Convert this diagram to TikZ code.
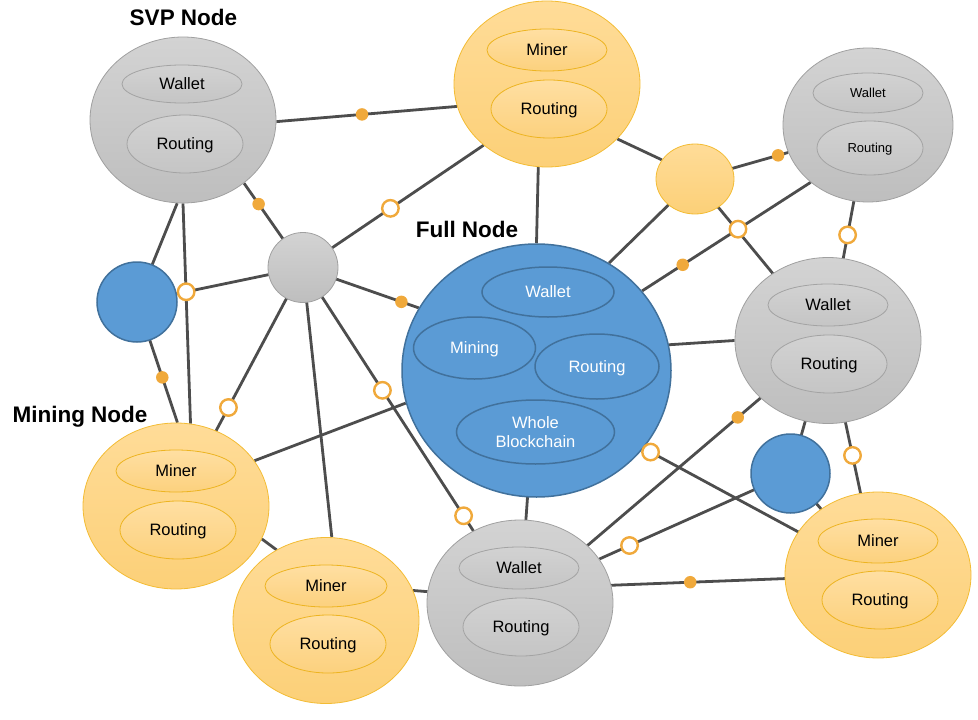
\documentclass[tikz,border=0pt]{standalone}
\usepackage{fontspec}
\setmainfont{Liberation Sans}
\usetikzlibrary{shapes.geometric}
\pgfdeclarelayer{background}
\pgfsetlayers{background,main}
\definecolor{gtop}{HTML}{D3D3D3}
\definecolor{gbot}{HTML}{BEBEBE}
\definecolor{gline}{HTML}{A0A0A0}
\definecolor{gitop}{HTML}{D2D2D2}
\definecolor{gibot}{HTML}{C5C5C5}
\definecolor{giline}{HTML}{A3A3A3}
\definecolor{ytop}{HTML}{FFDC98}
\definecolor{ybot}{HTML}{FCD078}
\definecolor{yline}{HTML}{F3BC34}
\definecolor{yitop}{HTML}{FFDFA2}
\definecolor{yibot}{HTML}{FCD17E}
\definecolor{yiline}{HTML}{EDB421}
\definecolor{bluef}{HTML}{5B9BD5}
\definecolor{bline}{HTML}{41719C}
\definecolor{markc}{HTML}{F0A93B}
\definecolor{linkc}{HTML}{4D4D4D}
\tikzset{
  big/.style={ellipse, inner sep=0pt, minimum width=186pt, minimum height=166pt},
  grayn/.style={draw=gline, line width=0.8pt, top color=gtop, bottom color=gbot},
  yelln/.style={draw=yline, line width=0.8pt, top color=ytop, bottom color=ybot},
  bluen/.style={draw=bline, line width=1.5pt, fill=bluef},
  part/.style={ellipse, inner sep=0pt, font=\fontsize{16.5}{19.8}\selectfont},
  oneline/.style={text height=11.8pt, text depth=0pt},
  smallline/.style={text height=9.3pt, text depth=0pt, font=\fontsize{13}{15.6}\selectfont},
  graypart/.style={part, oneline, draw=giline, line width=0.8pt, top color=gitop, bottom color=gibot},
  yellpart/.style={part, oneline, draw=yiline, line width=0.8pt, top color=yitop, bottom color=yibot},
  bluepart/.style={part, draw=bline, line width=1.5pt, fill=bluef, text=white},
  lab/.style={anchor=base, font=\bfseries\fontsize{22.5}{27}\selectfont},
  link/.style={draw=linkc, line width=2.8pt},
  dotm/.style={circle, fill=markc, inner sep=0pt, minimum size=12.5pt},
  ringm/.style={circle, draw=markc, line width=2.4pt, fill=white, inner sep=0pt, minimum size=16.5pt}
}
\begin{document}
\begin{tikzpicture}[x=1pt,y=-1pt]
\useasboundingbox (0,0) rectangle (978,720);
% outer nodes
\node[big,grayn] (svp) at (183,120) {};
\node[big,yelln] (m1) at (547,84) {};
\node[grayn, ellipse, inner sep=0pt, minimum width=170pt, minimum height=154pt] (g2) at (868,125) {};
\node[yelln, ellipse, inner sep=0pt, minimum width=78pt, minimum height=70pt] (ys) at (695,179) {};
\node[grayn, circle, inner sep=0pt, minimum size=70pt] (sg) at (303,267.5) {};
\node[bluen, circle, inner sep=0pt, minimum size=80pt] (bl) at (137,302) {};
\node[bluen, ellipse, inner sep=0pt, minimum width=269pt, minimum height=253pt] (full) at (536.5,370.5) {};
\node[big,grayn] (g3) at (828,340.5) {};
\node[bluen, circle, inner sep=0pt, minimum size=79pt] (br) at (790.5,473.5) {};
\node[big,yelln] (mn) at (176,506) {};
\node[big,yelln] (m3) at (326,620.5) {};
\node[big,grayn] (g4) at (520,603) {};
\node[big,yelln] (m4) at (878,575) {};
% inner parts
\node[graypart, minimum width=120pt, minimum height=38pt] (svpW) at (182,84) {Wallet};
\node[graypart, minimum width=116pt, minimum height=58pt] (svpR) at (185,144) {Routing};
\node[yellpart, minimum width=120pt, minimum height=42pt] (m1M) at (547,50) {Miner};
\node[yellpart, minimum width=116pt, minimum height=58pt] (m1R) at (549,109) {Routing};
\node[graypart, smallline, minimum width=110pt, minimum height=40pt] (g2W) at (868,93) {Wallet};
\node[graypart, smallline, minimum width=106pt, minimum height=54pt] (g2R) at (870,148) {Routing};
\node[bluepart, oneline, minimum width=132pt, minimum height=50pt] (fullW) at (548,292) {Wallet};
\node[bluepart, oneline, minimum width=122pt, minimum height=62pt] (fullM) at (474.5,348) {Mining};
\node[bluepart, oneline, minimum width=124pt, minimum height=65pt] (fullR) at (597,366.5) {Routing};
\node[bluepart, align=center, minimum width=158pt, minimum height=64pt] (fullB) at (535.5,432) {Whole\\Blockchain};
\node[graypart, minimum width=120pt, minimum height=42pt] (g3W) at (828,305) {Wallet};
\node[graypart, minimum width=116pt, minimum height=58pt] (g3R) at (829,364) {Routing};
\node[yellpart, minimum width=120pt, minimum height=42pt] (mnM) at (176,471) {Miner};
\node[yellpart, minimum width=116pt, minimum height=58pt] (mnR) at (178,530) {Routing};
\node[yellpart, minimum width=122pt, minimum height=42pt] (m3M) at (326,586) {Miner};
\node[yellpart, minimum width=116pt, minimum height=58pt] (m3R) at (328,644) {Routing};
\node[graypart, minimum width=120pt, minimum height=42pt] (g4W) at (519,568) {Wallet};
\node[graypart, minimum width=116pt, minimum height=58pt] (g4R) at (521,627) {Routing};
\node[yellpart, minimum width=120pt, minimum height=44pt] (m4M) at (878,541) {Miner};
\node[yellpart, minimum width=116pt, minimum height=58pt] (m4R) at (880,600) {Routing};
% labels
\node[lab] (svpL) at (183.5,25) {SVP Node};
\node[lab] (fullL) at (467,237) {Full Node};
\node[lab] (mnL) at (80,422) {Mining Node};
% connectors
\begin{pgfonlayer}{background}
\draw[link] (svp.359) -- (m1.194) coordinate[pos=0.474] (k1);
\draw[link] (svp.314) -- (sg.center) coordinate[pos=0.248] (k2);
\draw[link] (svp.266) -- (bl.center);
\draw[link] (svp.270) -- (mn.80);
\draw[link] (bl.center) -- (sg.center) coordinate[pos=0.296] (k3);
\draw[link] (bl.center) -- (mn.89) coordinate[pos=0.625] (k4);
\draw[link] (sg.center) -- (mn.center) coordinate[pos=0.587] (k5);
\draw[link] (sg.center) -- (m3.86);
\draw[link] (sg.center) -- (full.152) coordinate[pos=0.85] (k6);
\draw[link] (sg.center) -- (g4.center) coordinate[pos=0.366] (k7) coordinate[pos=0.740] (k8);
\draw[link] (sg.center) -- (m1.224) coordinate[pos=0.484] (k9);
\draw[link] (mn.30) -- (full.194);
\draw[link] (mn.339) -- (m3.125);
\draw[link] (m3.19) -- (g4.173);
\draw[link] (full.center) -- (g4.center);
\draw[link] (full.90) -- (m1.264);
\draw[link] (full.56) -- (ys.center);
\draw[link] (full.37) -- (g2.225) coordinate[pos=0.241] (k10) coordinate[pos=0.569] (k11);
\draw[link] (ys.center) -- (g2.199) coordinate[pos=0.892] (k12);
\draw[link] (m1.322) -- (ys.150);
\draw[link] (ys.center) -- (g3.center);
\draw[link] (g2.center) -- (g3.center) coordinate[pos=0.51] (k13);
\draw[link] (full.11) -- (g3.180);
\draw[link] (g3.center) -- (g4.center) coordinate[pos=0.293] (k14);
\draw[link] (g3.center) -- (br.center);
\draw[link] (g3.center) -- (m4.center) coordinate[pos=0.49] (k15);
\draw[link] (br.center) -- (g4.29) coordinate[pos=0.842] (k16);
\draw[link] (full.324) -- (m4.center) coordinate[pos=0.03] (k17);
\draw[link] (br.center) -- (m4.center);
\draw[link] (g4.11) -- (m4.center) coordinate[pos=0.296] (k18);
\end{pgfonlayer}
% markers
\node[dotm] (d1) at (k1) {};
\node[dotm] (d2) at (k2) {};
\node[ringm] (r3) at (k3) {};
\node[dotm] (d4) at (k4) {};
\node[ringm] (r5) at (k5) {};
\node[dotm] (d6) at (k6) {};
\node[ringm] (r7) at (k7) {};
\node[ringm] (r8) at (k8) {};
\node[ringm] (r9) at (k9) {};
\node[dotm] (d10) at (k10) {};
\node[ringm] (r11) at (k11) {};
\node[dotm] (d12) at (k12) {};
\node[ringm] (r13) at (k13) {};
\node[dotm] (d14) at (k14) {};
\node[ringm] (r15) at (k15) {};
\node[ringm] (r16) at (k16) {};
\node[ringm] (r17) at (k17) {};
\node[dotm] (d18) at (k18) {};
\end{tikzpicture}
\end{document}
